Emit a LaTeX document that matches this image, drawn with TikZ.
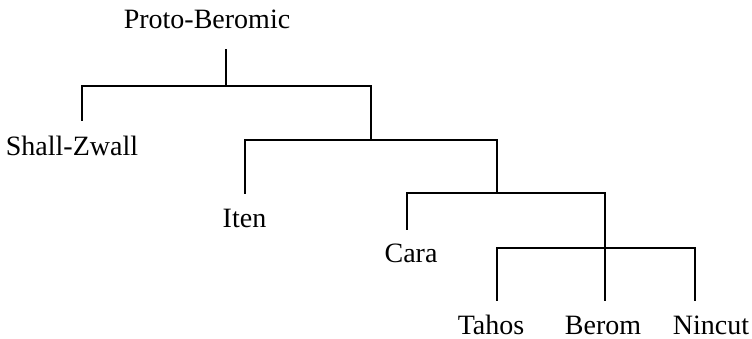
\documentclass[tikz,border=0pt]{standalone}
\usepackage{fontspec}
\setmainfont{Liberation Serif}
\begin{document}
\begin{tikzpicture}[x=1pt,y=-1pt,
  lang/.style={anchor=base,inner sep=0pt,font=\fontsize{28}{33}\selectfont},
  branch/.style={line width=1.3pt,line cap=rect}]
\useasboundingbox (0,0) rectangle (752,339);
% language names
\node[lang] (pb) at (207,29) {Proto-Beromic};
\node[lang] (sz) at (72,156) {Shall-Zwall};
\node[lang] (it) at (244.5,228) {Iten};
\node[lang] (ca) at (411,262) {Cara};
\node[lang] (ta) at (491,334) {Tahos};
\node[lang] (be) at (603,334) {Berom};
\node[lang] (ni) at (711,334) {Nincut};
% leaf ends of the branches
\coordinate (pbt) at (226,50);
\coordinate (szt) at (82,120);
\coordinate (itt) at (245,193);
\coordinate (cat) at (407,229);
\coordinate (tat) at (497,300);
\coordinate (bet) at (605,300);
\coordinate (nit) at (695,300);
% tree
\draw[branch] (pbt) -- (226,86);
\draw[branch] (szt) |- (371,86) -- (371,140);
\draw[branch] (itt) |- (497,140) -- (497,193);
\draw[branch] (cat) -- (407,193) -- (605,193) -- (bet);
\draw[branch] (tat) -- (497,248) -- (695,248) -- (nit);
\end{tikzpicture}
\end{document}
